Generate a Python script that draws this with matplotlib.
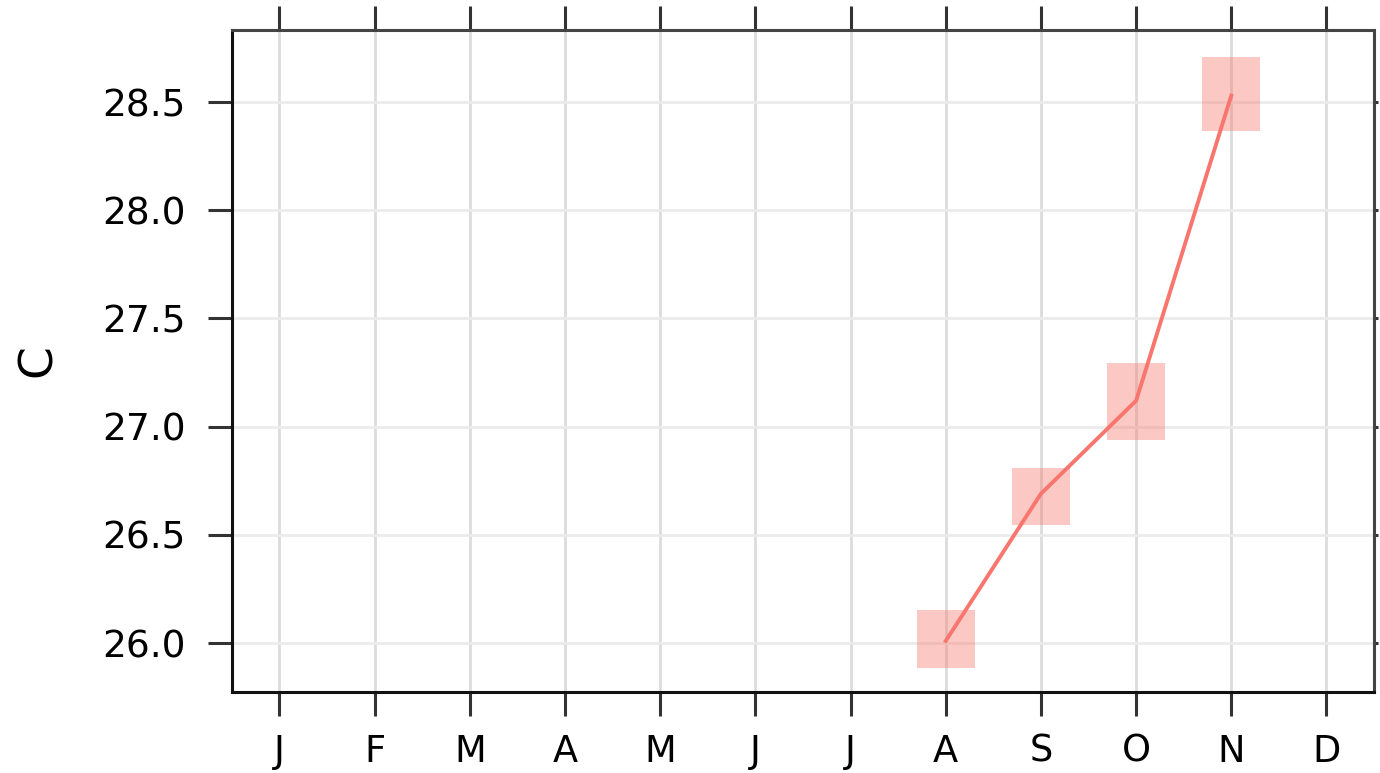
import matplotlib
matplotlib.use("Agg")
import matplotlib.pyplot as plt
from matplotlib.patches import Rectangle

months = [1, 2, 3, 4, 5, 6, 7, 8, 9, 10, 11, 12]
month_labels = ["J", "F", "M", "A", "M", "J", "J", "A", "S", "O", "N", "D"]
x_obs = [8, 9, 10, 11]
y_obs = [26.01, 26.69, 27.12, 28.53]
y_low = [25.884, 26.545, 26.938, 28.365]
y_high = [26.152, 26.809, 27.294, 28.71]
yticks = [26.0, 26.5, 27.0, 27.5, 28.0, 28.5]

fig = plt.figure(figsize=(13.8, 7.73), dpi=100)
ax = fig.add_axes([0.168, 0.1048, 0.8277, 0.8564])

box_w = 0.61
for x, lo, hi in zip(x_obs, y_low, y_high):
    ax.add_patch(Rectangle((x - box_w / 2, lo), box_w, hi - lo,
                           facecolor="#F8766D", alpha=0.4, edgecolor="none", zorder=2))
ax.plot(x_obs, y_obs, color="#F8766D", lw=2.8, zorder=3)

ax.set_xlim(0.5, 12.5)
ax.set_ylim(25.774, 28.833)
ax.set_xticks(months)
ax.set_xticklabels(month_labels)
ax.set_yticks(yticks)
ax.set_yticklabels([f"{v:.1f}" for v in yticks])

ax.grid(axis="x", color="#dcdcdc", lw=2, zorder=0)
ax.grid(axis="y", color="#ebebeb", lw=2, zorder=0)
ax.set_axisbelow(True)

ax.tick_params(axis="both", which="major", direction="out",
               length=17, width=2.2, color="#333333")
ax.tick_params(axis="x", labelsize=26.5, pad=12.5, top=True, labeltop=False)
ax.tick_params(axis="y", labelsize=27, pad=16, right=True)
for t in ax.yaxis.get_major_ticks():
    t.tick2line.set_markersize(3)
for t in ax.xaxis.get_major_ticks():
    t.tick1line.set_color("#555555")
    t.tick2line.set_color("#333333")

for side in ["left", "bottom"]:
    ax.spines[side].set_color("#111111")
    ax.spines[side].set_linewidth(2.2)
for side in ["top", "right"]:
    ax.spines[side].set_color("#444444")
    ax.spines[side].set_linewidth(2.2)

ax.set_ylabel("C", fontsize=34, labelpad=30)

fig.savefig("out.png", dpi=100)
